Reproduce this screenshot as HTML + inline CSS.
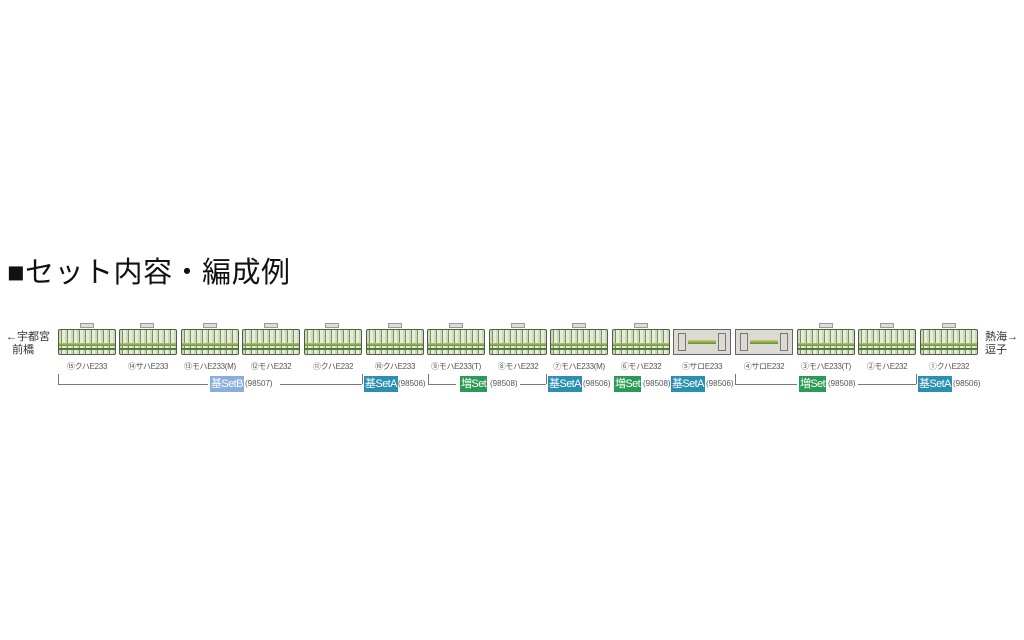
<!DOCTYPE html>
<html><head><meta charset="utf-8"><style>
body{margin:0;width:1024px;height:640px;background:#fff;position:relative;overflow:hidden;font-family:"Liberation Sans","Noto Sans CJK JP",sans-serif;}
.a{position:absolute;white-space:nowrap;}
.car{position:absolute;top:329px;width:58px;height:26px;border:1.5px solid #4a6040;box-sizing:border-box;border-radius:2px;
 background:repeating-linear-gradient(90deg,#cfd8be 0 2px,#6f9a55 2px 3px,#e6ebdc 3px 6px);}
.car::after{content:"";position:absolute;left:0;right:0;top:13px;height:3px;background:linear-gradient(#d9b070,#4da035);}
.car::before{content:"";position:absolute;left:0;right:0;top:18px;height:2px;background:#4f7a3a;}
.gr{position:absolute;top:329px;width:58px;height:26px;border:1.5px solid #666;box-sizing:border-box;background:#dcdad2;}
.gr i{position:absolute;left:14px;right:14px;top:10px;height:4px;background:linear-gradient(#e8c070,#3aa030);}
.gr b{position:absolute;top:3px;bottom:3px;width:6px;border:1px solid #777;}
.lb{position:absolute;top:361px;font-size:8px;color:#555;width:62px;text-align:center;white-space:nowrap;letter-spacing:-0.3px;}
.tag{position:absolute;top:376px;height:16px;line-height:16px;font-size:11px;color:#fff;padding:0 1px;letter-spacing:-0.6px;white-space:nowrap;}
.ta{background:#2a8fb0;}.tz{background:#2a9a55;}.tb{background:#8aaedc;}
.num{position:absolute;top:379px;font-size:8px;color:#555;white-space:nowrap;}
.ln{position:absolute;border-bottom:1px solid #777;height:0;}
.vt{position:absolute;border-left:1px solid #777;width:0;}
.pan{position:absolute;top:323px;width:14px;height:5px;background:#ddd;border:1px solid #999;box-sizing:border-box;}
</style></head><body>
<div class="a" style="left:7px;top:249px;font-size:29px;color:#111;letter-spacing:0.5px;">■セット内容・編成例</div>
<div class="a" style="left:6px;top:331px;font-size:11px;color:#333;line-height:13px;">←宇都宮<br>&nbsp;&nbsp;前橋</div>
<div class="a" style="left:985px;top:331px;font-size:11px;color:#333;line-height:13px;">熱海→<br>逗子</div>

<div class="car" style="left:58px"></div>
<div class="car" style="left:119px"></div>
<div class="car" style="left:181px"></div>
<div class="car" style="left:242px"></div>
<div class="car" style="left:304px"></div>
<div class="car" style="left:366px"></div>
<div class="car" style="left:427px"></div>
<div class="car" style="left:489px"></div>
<div class="car" style="left:550px"></div>
<div class="car" style="left:612px"></div>
<div class="gr" style="left:673px"><b style="left:4px"></b><b style="right:4px"></b><i></i></div>
<div class="gr" style="left:735px"><b style="left:4px"></b><b style="right:4px"></b><i></i></div>
<div class="car" style="left:797px"></div>
<div class="car" style="left:858px"></div>
<div class="car" style="left:920px"></div>
<div class="pan" style="left:80px"></div><div class="pan" style="left:140px"></div><div class="pan" style="left:203px"></div>
<div class="pan" style="left:264px"></div><div class="pan" style="left:325px"></div><div class="pan" style="left:388px"></div>
<div class="pan" style="left:449px"></div><div class="pan" style="left:511px"></div><div class="pan" style="left:572px"></div>
<div class="pan" style="left:634px"></div><div class="pan" style="left:819px"></div><div class="pan" style="left:880px"></div><div class="pan" style="left:942px"></div>

<div class="lb" style="left:56px">⑮クハE233</div>
<div class="lb" style="left:117px">⑭サハE233</div>
<div class="lb" style="left:179px">⑬モハE233(M)</div>
<div class="lb" style="left:240px">⑫モハE232</div>
<div class="lb" style="left:302px">⑪クハE232</div>
<div class="lb" style="left:364px">⑩クハE233</div>
<div class="lb" style="left:425px">⑨モハE233(T)</div>
<div class="lb" style="left:487px">⑧モハE232</div>
<div class="lb" style="left:548px">⑦モハE233(M)</div>
<div class="lb" style="left:610px">⑥モハE232</div>
<div class="lb" style="left:671px">⑤サロE233</div>
<div class="lb" style="left:733px">④サロE232</div>
<div class="lb" style="left:795px">③モハE233(T)</div>
<div class="lb" style="left:856px">②モハE232</div>
<div class="lb" style="left:918px">①クハE232</div>

<div class="vt" style="left:58px;top:374px;height:10px"></div>
<div class="ln" style="left:58px;top:384px;width:150px"></div>
<div class="ln" style="left:280px;top:384px;width:82px"></div>
<div class="vt" style="left:362px;top:374px;height:10px"></div>
<div class="tag tb" style="left:210px">基SetB</div><div class="num" style="left:245px">(98507)</div>

<div class="tag ta" style="left:364px">基SetA</div><div class="num" style="left:398px">(98506)</div>
<div class="vt" style="left:428px;top:374px;height:10px"></div>
<div class="ln" style="left:428px;top:384px;width:28px"></div>
<div class="tag tz" style="left:460px">増Set</div><div class="num" style="left:490px">(98508)</div>
<div class="ln" style="left:520px;top:384px;width:26px"></div>
<div class="vt" style="left:546px;top:374px;height:10px"></div>
<div class="tag ta" style="left:548px">基SetA</div><div class="num" style="left:583px">(98506)</div>
<div class="tag tz" style="left:614px">増Set</div><div class="num" style="left:643px">(98508)</div>
<div class="tag ta" style="left:671px">基SetA</div><div class="num" style="left:706px">(98506)</div>
<div class="vt" style="left:735px;top:374px;height:10px"></div>
<div class="ln" style="left:735px;top:384px;width:62px"></div>
<div class="tag tz" style="left:799px">増Set</div><div class="num" style="left:828px">(98508)</div>
<div class="ln" style="left:858px;top:384px;width:58px"></div>
<div class="vt" style="left:916px;top:374px;height:10px"></div>
<div class="tag ta" style="left:918px">基SetA</div><div class="num" style="left:953px">(98506)</div>
</body></html>
